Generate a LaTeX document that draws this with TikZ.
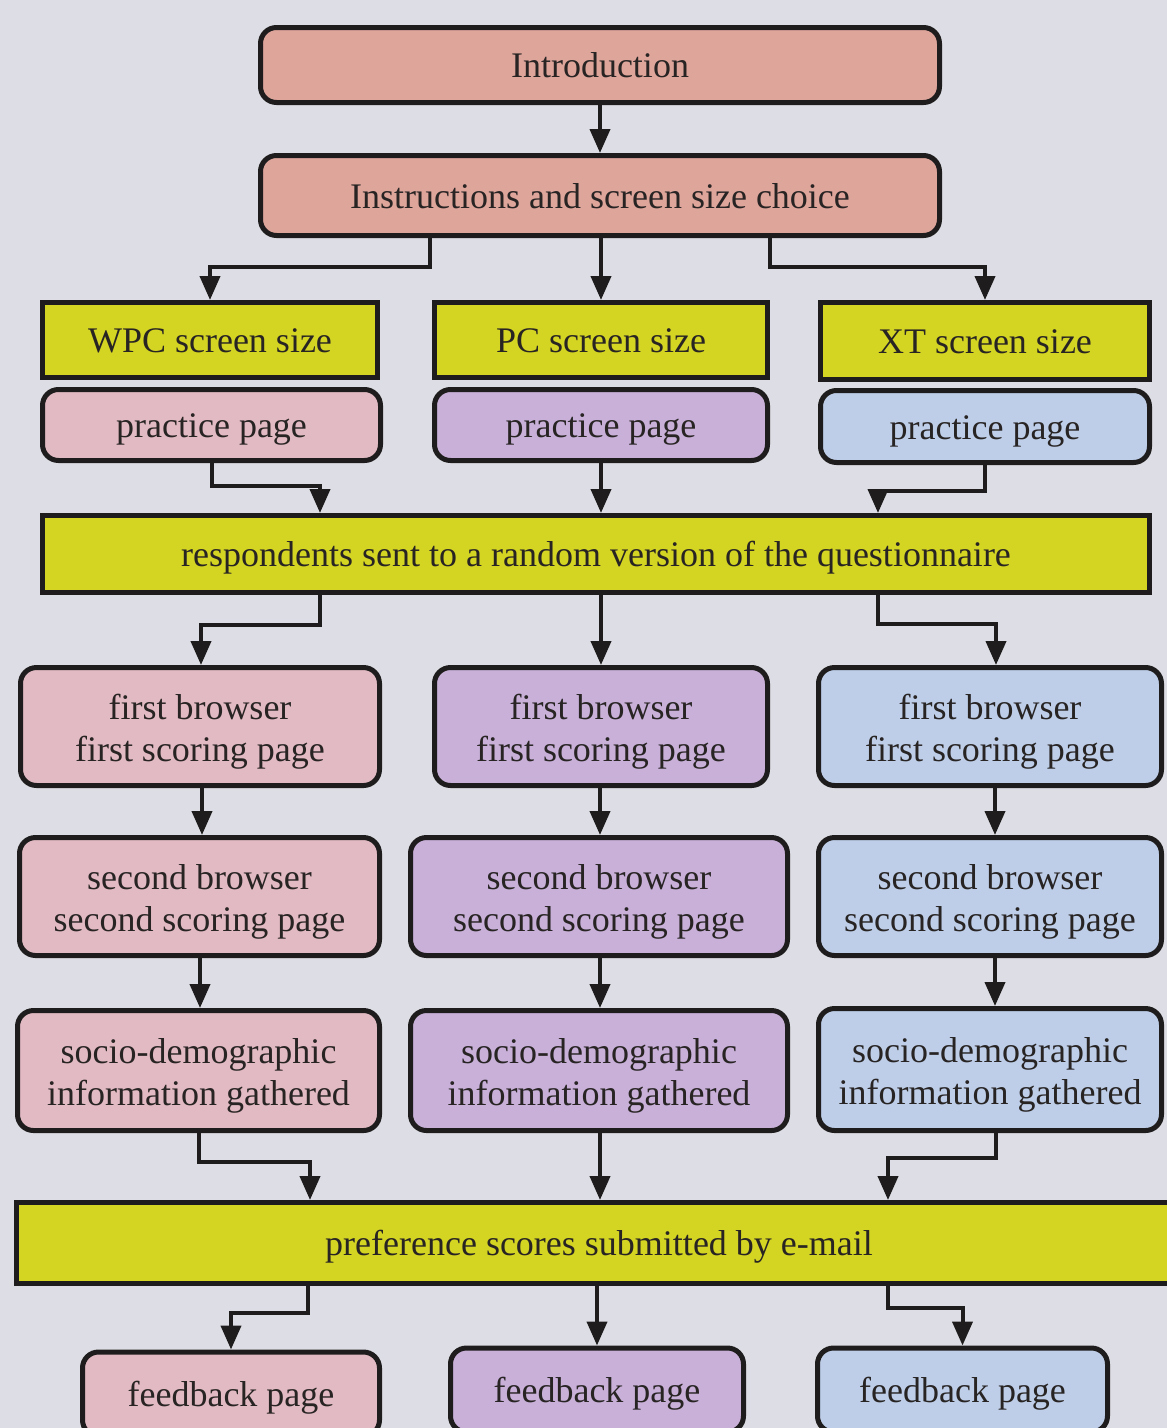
\documentclass[tikz,border=0pt]{standalone}
\usepackage{fontspec}
\setmainfont{Liberation Serif}
\usetikzlibrary{arrows.meta}
\definecolor{bg}{RGB}{221,222,229}
\definecolor{salmon}{RGB}{222,165,155}
\definecolor{pinkc}{RGB}{226,186,195}
\definecolor{purplec}{RGB}{200,176,216}
\definecolor{bluec}{RGB}{190,206,232}
\definecolor{yel}{RGB}{212,212,34}
\definecolor{txt}{RGB}{40,36,36}
\definecolor{edge}{RGB}{30,28,28}
\newcommand{\tallstrut}{\rule{0pt}{35pt}}
\begin{document}
\begin{tikzpicture}[x=1pt,y=-1pt,
  box/.style={draw=edge, line width=5pt, rounded corners=16pt, inner sep=0pt, align=center,
    font=\fontsize{36}{42}\selectfont, text=txt},
  ybox/.style={box, rounded corners=0pt, fill=yel},
  oneline/.style={text height=31pt, text depth=6pt},
  arr/.style={line width=4pt, draw=edge, -{Triangle[width=20pt,length=24pt]}}]
\fill[bg] (0,0) rectangle (1167,1428);
\useasboundingbox (0,0) rectangle (1167,1428);

% top
\node[box, oneline, fill=salmon, minimum width=679pt, minimum height=75pt] (intro) at (600,65) {Introduction};
\node[box, oneline, fill=salmon, minimum width=679pt, minimum height=80pt] (instr) at (600,195.5) {Instructions and screen size choice};

% screen sizes
\node[ybox, oneline, minimum width=335pt, minimum height=75pt] (wpc) at (210,340) {WPC screen size};
\node[ybox, oneline, minimum width=333pt, minimum height=75pt] (pc) at (601,340) {PC screen size};
\node[ybox, oneline, minimum width=329pt, minimum height=77pt] (xt) at (985,341) {XT screen size};

% practice
\node[box, oneline, fill=pinkc, minimum width=338pt, minimum height=71pt] (wpcp) at (211.5,425) {practice page};
\node[box, oneline, fill=purplec, minimum width=333pt, minimum height=71pt] (pcp) at (601,425) {practice page};
\node[box, oneline, fill=bluec, minimum width=329pt, minimum height=72pt] (xtp) at (985,426.5) {practice page};

% respondents
\node[ybox, oneline, minimum width=1107pt, minimum height=77pt] (resp) at (596,554) {respondents sent to a random version of the questionnaire};

% first browser
\node[box, fill=pinkc, minimum width=359pt, minimum height=118pt] (wpcf) at (200,726.5) {\tallstrut first browser\\first scoring page};
\node[box, fill=purplec, minimum width=333pt, minimum height=118pt] (pcf) at (601,726.5) {\tallstrut first browser\\first scoring page};
\node[box, fill=bluec, minimum width=343pt, minimum height=118pt] (xtf) at (990,726.5) {\tallstrut first browser\\first scoring page};

% second browser
\node[box, fill=pinkc, minimum width=360pt, minimum height=118pt] (wpcs) at (199.5,896.5) {\tallstrut second browser\\second scoring page};
\node[box, fill=purplec, minimum width=377pt, minimum height=118pt] (pcs) at (599,896.5) {\tallstrut second browser\\second scoring page};
\node[box, fill=bluec, minimum width=343pt, minimum height=118pt] (xts) at (990,896.5) {\tallstrut second browser\\second scoring page};

% socio
\node[box, fill=pinkc, minimum width=362pt, minimum height=120pt] (wpcd) at (198.5,1070.5) {\tallstrut socio-demographic\\information gathered};
\node[box, fill=purplec, minimum width=377pt, minimum height=120pt] (pcd) at (599,1070.5) {\tallstrut socio-demographic\\information gathered};
\node[box, fill=bluec, minimum width=343pt, minimum height=122pt] (xtd) at (990,1069.5) {\tallstrut socio-demographic\\information gathered};

% preference
\node[ybox, oneline, minimum width=1165pt, minimum height=81pt] (pref) at (599,1243) {preference scores submitted by e-mail};

% feedback
\node[box, oneline, fill=pinkc, minimum width=297pt, minimum height=84pt] (wpcb) at (231,1394) {feedback page};
\node[box, oneline, fill=purplec, minimum width=293pt, minimum height=84pt] (pcb) at (597,1390) {feedback page};
\node[box, oneline, fill=bluec, minimum width=290pt, minimum height=84pt] (xtb) at (962.5,1390) {feedback page};

% connectors
\draw[arr] (intro.south) -- (instr.north);
\draw[arr] ([xshift=-170pt]instr.south) -- ++(0,29) -| (wpc.north);
\draw[arr] ([xshift=1pt]instr.south) -- (pc.north);
\draw[arr] ([xshift=170pt]instr.south) -- ++(0,29) -| (xt.north);

\draw[arr] (wpcp.south) -- ++(0,23) -| ([xshift=-276pt]resp.north);
\draw[arr] (pcp.south) -- ([xshift=5pt]resp.north);
\draw[arr] (xtp.south) -- ++(0,26) -| ([xshift=282pt]resp.north);

\draw[arr] ([xshift=-276pt]resp.south) -- ++(0,30) -| ([xshift=1pt]wpcf.north);
\draw[arr] ([xshift=5pt]resp.south) -- (pcf.north);
\draw[arr] ([xshift=282pt]resp.south) -- ++(0,29) -| ([xshift=6pt]xtf.north);

\draw[arr] ([xshift=2pt]wpcf.south) -- ([xshift=2.5pt]wpcs.north);
\draw[arr] ([xshift=-1pt]pcf.south) -- ([xshift=1pt]pcs.north);
\draw[arr] ([xshift=5pt]xtf.south) -- ([xshift=5pt]xts.north);

\draw[arr] ([xshift=0.5pt]wpcs.south) -- ([xshift=1.5pt]wpcd.north);
\draw[arr] ([xshift=1pt]pcs.south) -- ([xshift=1pt]pcd.north);
\draw[arr] ([xshift=5pt]xts.south) -- ([xshift=5pt]xtd.north);

\draw[arr] ([xshift=0.5pt]wpcd.south) -- ++(0,29) -| ([xshift=-289pt]pref.north);
\draw[arr] ([xshift=1pt]pcd.south) -- ([xshift=1pt]pref.north);
\draw[arr] ([xshift=6pt]xtd.south) -- ++(0,25) -| ([xshift=289pt]pref.north);

\draw[arr] ([xshift=-291pt]pref.south) -- ++(0,27) -| (wpcb.north);
\draw[arr] ([xshift=-2pt]pref.south) -- (pcb.north);
\draw[arr] ([xshift=289pt]pref.south) -- ++(0,22) -| (xtb.north);
\end{tikzpicture}
\end{document}
